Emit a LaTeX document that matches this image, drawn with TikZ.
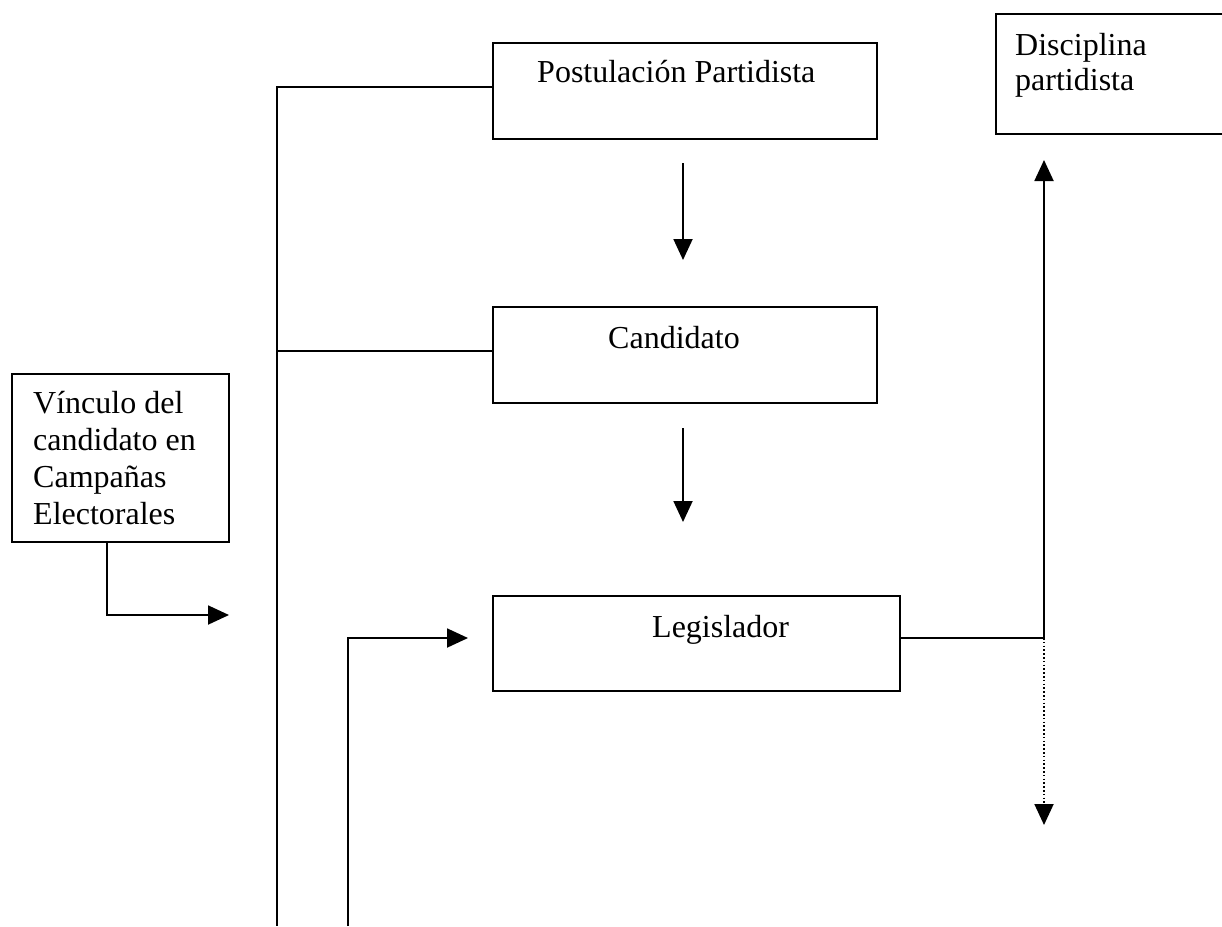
\documentclass[tikz,border=0pt]{standalone}
\usepackage{fontspec}
\setmainfont{Liberation Serif}
\usetikzlibrary{arrows.meta}
\begin{document}
\begin{tikzpicture}[x=1pt,y=-1pt,
  box/.style={draw, line width=1.9pt, inner sep=0pt},
  lbl/.style={font=\fontsize{32}{37}\selectfont, inner sep=0pt, align=left, anchor=base west},
  conn/.style={line width=1.9pt},
  tip/.style={-{Triangle[length=21pt,width=19pt]}},
  arr/.style={conn, tip},
  dotarr/.style={line width=1.9pt, dash pattern=on 1.6pt off 2.2pt, tip}]
\useasboundingbox (0,0) rectangle (1222,926);
% boxes
\node[box, minimum width=384pt, minimum height=96pt] (post) at (685,91) {};
\node[box, minimum width=244pt, minimum height=120pt] (disc) at (1118,74) {};
\node[box, minimum width=384pt, minimum height=96pt] (cand) at (685,355) {};
\node[box, minimum width=217pt, minimum height=168pt] (vinc) at (120.5,458) {};
\node[box, minimum width=407pt, minimum height=95pt] (legi) at (696.5,643.5) {};
% texts (base = baseline of the last line)
\node[lbl] (tpost) at (537,82) {Postulación Partidista};
\node[lbl, font=\fontsize{32}{35}\selectfont] (tdisc) at (1015,90) {Disciplina\\partidista};
\node[lbl] (tcand) at (608,348) {Candidato};
\node[lbl] (tvinc) at (33,524) {Vínculo del\\candidato en\\Campañas\\Electorales};
\node[lbl] (tlegi) at (652,637) {Legislador};
% coordinates
\coordinate (sptop) at (277,87);
\coordinate (spbot) at (277,926);
\coordinate (spc) at (277,351);
\coordinate (a1s) at (683,163);
\coordinate (a1e) at (683,260);
\coordinate (a2s) at (683,428);
\coordinate (a2e) at (683,522);
\coordinate (vk) at (107,615);
\coordinate (ve) at (229,615);
\coordinate (lb) at (348,926);
\coordinate (lk) at (348,638);
\coordinate (le) at (468,638);
\coordinate (rj) at (1044,638);
\coordinate (rup) at (1044,160);
\coordinate (rdn) at (1044,825);
% connectors
\draw[conn] (post.west |- sptop) -- (sptop) -- (spbot);
\draw[conn] (spc) -- (cand.west |- spc);
\draw[arr] (a1s) -- (a1e);
\draw[arr] (a2s) -- (a2e);
\draw[arr] (vinc.south -| vk) -- (vk) -- (ve);
\draw[arr] (lb) -- (lk) -- (le);
\draw[conn] (legi.east |- rj) -- (rj);
\draw[arr] (rj) -- (rup);
\draw[dotarr] (rj) -- (rdn);
\end{tikzpicture}
\end{document}
